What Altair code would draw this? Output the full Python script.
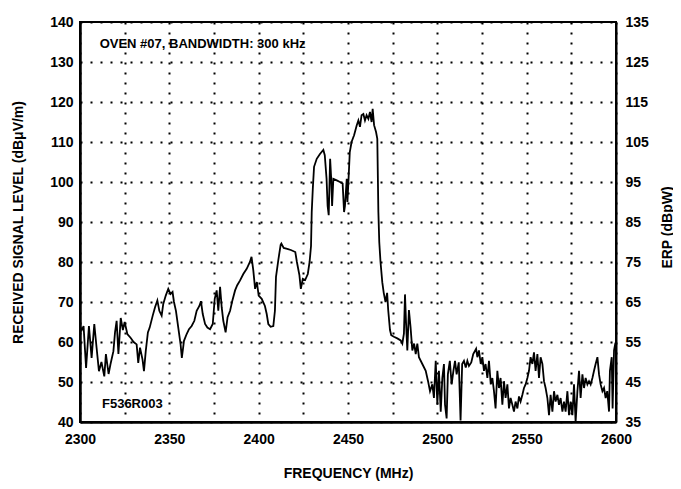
import altair as alt
import pandas as pd

freq = [2300, 2301, 2302, 2303.4, 2305, 2306.5, 2308, 2309.3, 2310.6, 2312, 2313.6, 2314.5, 2316, 2317,
        2318.7, 2319.6, 2320.5, 2321.5, 2322.8, 2324, 2325, 2326.5, 2328.4, 2330, 2331.7, 2332.6, 2333.6,
        2335, 2335.8, 2336.8, 2338, 2339, 2340.7, 2342, 2343.3, 2344.4, 2345.7, 2346.6, 2348, 2349.4,
        2350.7, 2351.8, 2352.6, 2353.7, 2355, 2356.3, 2357, 2358.2, 2359.7, 2361, 2362.5, 2364, 2365.3,
        2366.8, 2367.7, 2368.7, 2370, 2371.3, 2372.8, 2374.3, 2375.4, 2376.5, 2377.4, 2378.4, 2379.3,
        2380.2, 2381.5, 2382.6, 2384, 2385.3, 2386.8, 2388, 2389.6, 2391.4, 2393.3, 2395.1, 2396, 2397,
        2398, 2399, 2400, 2401.7, 2403.5, 2404.5, 2405.4, 2406.7, 2408.2, 2409.1, 2409.7, 2411, 2412.3,
        2412.7, 2414, 2416, 2418, 2420.5, 2421.4, 2422.8, 2423.6, 2424.7, 2426, 2427.5, 2428.5, 2429.3,
        2429.7, 2430.3, 2431, 2432.5, 2434.3, 2436.2, 2437, 2438, 2438.6, 2439.2, 2440, 2440.6, 2441.1,
        2441.8, 2443.7, 2445.5, 2447, 2447.8, 2448.3, 2449.3, 2449.7, 2450.4, 2451, 2452, 2453.4, 2454.9,
        2455.8, 2456.7, 2457.6, 2458.6, 2459.5, 2460.4, 2461.4, 2462.3, 2463.2, 2463.8, 2464.6, 2465.7,
        2466.4, 2467, 2467.5, 2468.2, 2469.2, 2470, 2471, 2471.9, 2472.5, 2473.5, 2474.2, 2475.7, 2477.6,
        2479.5, 2480.4, 2481.3, 2481.9, 2482.5, 2483.2, 2484.1, 2485, 2486, 2487, 2487.9, 2488.8, 2489.7,
        2491.6, 2493.5, 2494.8, 2495.9, 2497.2, 2498.1, 2499.1, 2500, 2500.9, 2501.9, 2502.8, 2503.7,
        2504.3, 2505.2, 2505.9, 2507, 2508, 2509, 2509.9, 2510.8, 2512, 2513, 2513.9, 2514.9, 2515.9,
        2516.8, 2517.7, 2519, 2520.1, 2521.7, 2522.4, 2523.3, 2524.3, 2525.2, 2526.1, 2527, 2528, 2528.9,
        2529.9, 2530.8, 2531.7, 2532.6, 2533.6, 2534.5, 2535.4, 2536.4, 2537.3, 2538.2, 2539.2, 2540.1,
        2541, 2542, 2542.9, 2543.8, 2544.8, 2545.7, 2546.6, 2547.6, 2548.5, 2549.4, 2550.4, 2551.3,
        2552.2, 2553.2, 2554.1, 2555, 2556, 2556.9, 2557.8, 2558.8, 2559.7, 2560.6, 2561.6, 2562.5,
        2563.4, 2564.4, 2565.3, 2566.2, 2567.2, 2568.1, 2569, 2570, 2570.9, 2571.8, 2572.8, 2573.7,
        2574.6, 2575.6, 2576.5, 2577.4, 2578.4, 2579.3, 2580.2, 2581.2, 2582.1, 2583, 2584, 2584.9,
        2585.8, 2586.8, 2587.7, 2588.6, 2589.6, 2590.5, 2591.4, 2592.4, 2593.3, 2594.2, 2595.1, 2596.1,
        2596.6, 2597.6, 2598.1, 2598.9, 2599.6, 2600]

level = [64, 63, 64, 53.5, 64, 56, 64.5, 58.5, 52.7, 55, 51.4, 57, 52, 54.3,
         57.7, 62.4, 65.3, 57, 66, 63, 65, 62, 61, 60, 59.4, 54.8, 58.6,
         55.6, 52.7, 57.7, 62.4, 63.6, 66.6, 68.7, 70.4, 67.8, 66.6, 69.5, 71.6, 73.3,
         72, 72.5, 70, 67.8, 63.6, 59.4, 56, 60.3, 62, 63.2, 64, 65.3, 67.8,
         69, 70.2, 67, 64.5, 63.6, 63.2, 64.5, 70.8, 72.9, 67.8, 73.8, 68.7,
         65.3, 62.4, 66.2, 67.8, 70.4, 72.9, 74.2, 75.4, 77, 78.3, 80, 81.3, 77.9,
         73.3, 75, 71.6, 70.8, 69, 67, 64.5, 63.8, 64, 67.8, 76.3, 80.5, 84.3,
         84.6, 83.5, 83.3, 83, 82.5, 80, 76.7, 73.3, 75.8, 75.5, 77, 80, 84,
         92.5, 98.3, 103.8, 105.8, 107, 108, 106.7, 100.8, 94, 91.7, 105.8, 100.8, 94,
         100.8, 100.4, 100, 99.6, 92.5, 94, 100.8, 95, 101.7, 107.5, 110, 111.7, 114.2,
         115.4, 113.8, 116.7, 117, 115.4, 116.7, 115.8, 117.5, 115, 118.3, 114.2, 112.5,
         110.8, 92.5, 85, 80, 74.9, 72.3, 70, 72.3, 68, 63, 61.7, 61.3, 60.9,
         60.4, 59.6, 62.1, 71.9, 64.7, 57.9, 68, 63.8, 57.9, 59.6, 57, 59.6, 56.2,
         54.5, 52.8, 50.2, 47.7, 49.4, 46, 55.3, 44.3, 52.8, 42.6, 51, 54.5,
         44.3, 40.9, 51.9, 55.3, 49.4, 52.8, 55.3, 51.9, 54.9, 40.4, 54.5, 55.3, 53.6,
         55.3, 54, 54.9, 57, 58.3, 56.2, 57.9, 54.5, 56.2, 52.8, 54.5, 51, 55.3,
         49.4, 51, 47.7, 43.4, 52.8, 48.5, 51, 44.3, 50.2, 46, 49.4, 43.4,
         46, 44.3, 42.6, 45.1, 43.4, 46.4, 45.1, 46.8, 48.5, 49.4, 51, 52.8,
         56.2, 54.5, 57.4, 52.8, 57, 51, 56.2, 54.5, 50.2, 48.5, 46, 41.7,
         46.8, 42.6, 47.7, 45.1, 46.8, 44.3, 46, 42.6, 45.1, 42.6, 47.7, 41.7,
         45.1, 41.7, 49.4, 40, 47.7, 52.8, 46, 51.9, 48.5, 51, 49.4, 50.2,
         49.4, 51, 52.8, 54.5, 56.2, 51.9, 49.4, 47.7, 48.5, 46, 47.7, 42.6,
         52.8, 56.2, 43.4, 57.9, 59.6, 60]

x_ticks = list(range(2300, 2601, 25))
left_ticks = list(range(40, 141, 10))
right_ticks = list(range(35, 136, 10))

notes = ["OVEN #07, BANDWIDTH: 300 kHz", "F536R003"]
note_x = [2311, 2312.3]
note_y = [134.6, 44.6]

FONT = "Liberation Sans Narrow, Liberation Sans, Arial, sans-serif"

df = pd.DataFrame({"freq": freq, "level": level})
notes_df = pd.DataFrame({"label": notes, "fx": note_x, "ly": note_y})

xscale = alt.Scale(domain=[2300, 2600], nice=False, zero=False)
yscale = alt.Scale(domain=[40, 140], nice=False, zero=False)

grid_kw = dict(grid=True, gridColor="black", gridDash=[2, 8], gridWidth=2, gridOpacity=1)
lab_kw = dict(labelFont=FONT, labelFontSize=14, labelFontWeight="bold", labelColor="black",
              labelOverlap=False, titleFont=FONT, titleFontSize=14, titleFontWeight="bold",
              titleColor="black")

x_axis = alt.Axis(values=x_ticks, format="d",
                  labelExpr="datum.value % 50 == 0 ? datum.label : ''",
                  title="FREQUENCY (MHz)", ticks=False, labelPadding=10,
                  labelFlush=False,
                  titleX=268, titleY=51, titleBaseline="middle",
                  domainColor="black", domainWidth=2.5, **grid_kw, **lab_kw)
y_axis = alt.Axis(values=left_ticks, title="RECEIVED SIGNAL LEVEL (dBμV/m)", orient="left",
                  ticks=False, labelPadding=7,
                  titleX=-62, titleY=200, titleAngle=270, titleBaseline="middle",
                  titleAlign="center",
                  domainColor="black", domainWidth=2.5, **grid_kw, **lab_kw)

line = alt.Chart(df).mark_line(color="black", strokeWidth=1.8).encode(
    x=alt.X("freq:Q", scale=xscale, axis=x_axis),
    y=alt.Y("level:Q", scale=yscale, axis=y_axis),
)

text = alt.Chart(notes_df).mark_text(align="left", baseline="middle", font=FONT, fontSize=13,
                                     fontWeight="bold", color="black").encode(
    x=alt.X("fx:Q", scale=xscale, axis=x_axis),
    y=alt.Y("ly:Q", scale=yscale, axis=y_axis),
    text="label:N",
)

erp = alt.Chart(df).transform_calculate(erp="datum.level - 5").mark_line(opacity=0).encode(
    x=alt.X("freq:Q", scale=xscale, axis=x_axis),
    y=alt.Y("erp:Q", scale=alt.Scale(domain=[35, 135], nice=False, zero=False),
            axis=alt.Axis(values=right_ticks, title="ERP (dBpW)", orient="right", ticks=False,
                          labelPadding=9, grid=False,
                          titleX=51, titleY=205, titleAngle=270, titleBaseline="middle",
                          titleAlign="center",
                          domainColor="black", domainWidth=2, **lab_kw)),
)

chart = alt.layer(alt.layer(line, text), erp).resolve_scale(y="independent").properties(
    width=536, height=400,
    autosize=alt.AutoSizeParams(type="none"),
    padding={"left": 72, "top": 14, "right": 57, "bottom": 59},
    background="white",
).configure_view(stroke="black", strokeWidth=2)

chart.save("out.html", embed_options={"renderer": "svg", "actions": False})
